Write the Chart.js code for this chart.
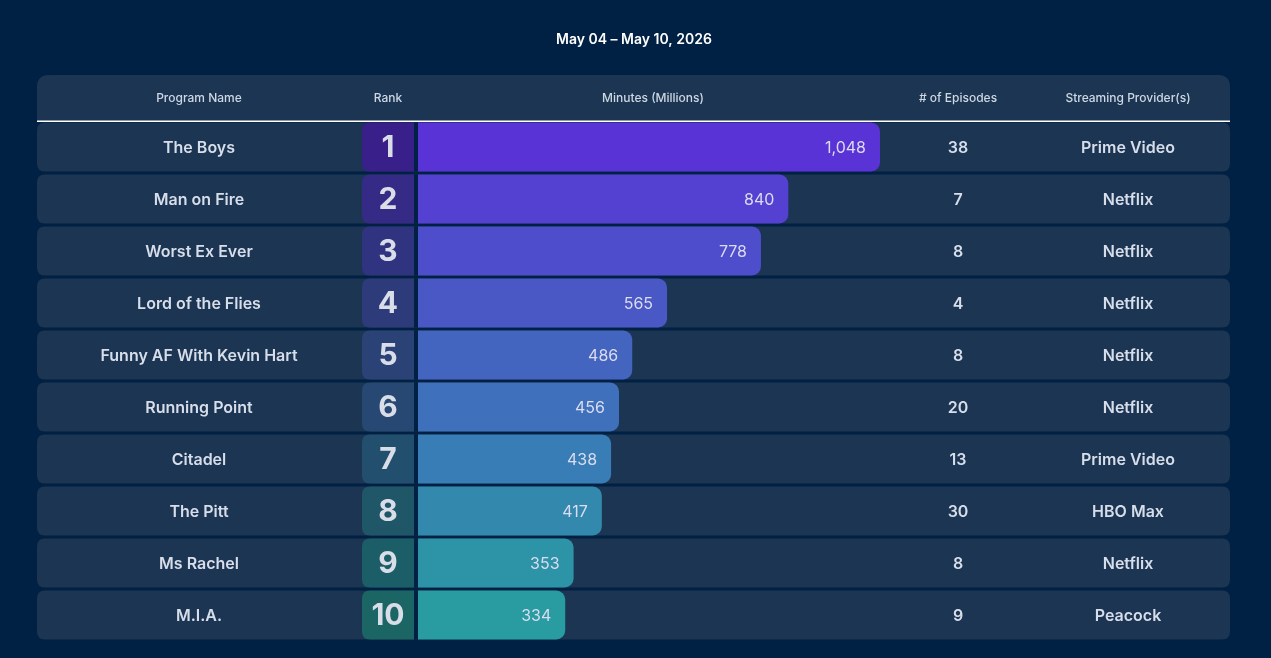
<!DOCTYPE html>
<html>
<head>
<meta charset="utf-8">
<script src="https://cdn.jsdelivr.net/npm/chart.js@4"></script>
<style>
  html, body { margin: 0; padding: 0; background: #002143; }
  #wrap { width: 1271px; height: 658px; position: relative; }
</style>
</head>
<body>
<div id="wrap"><canvas id="c"></canvas></div>
<script>
const title = "May 04 – May 10, 2026";
const headers = ["Program Name", "Rank", "Minutes (Millions)", "# of Episodes", "Streaming Provider(s)"];
const programs = ["The Boys", "Man on Fire", "Worst Ex Ever", "Lord of the Flies", "Funny AF With Kevin Hart", "Running Point", "Citadel", "The Pitt", "Ms Rachel", "M.I.A."];
const ranks = [1, 2, 3, 4, 5, 6, 7, 8, 9, 10];
const minutes = [1048, 840, 778, 565, 486, 456, 438, 417, 353, 334];
const episodes = [38, 7, 8, 4, 8, 20, 13, 30, 8, 9];
const providers = ["Prime Video", "Netflix", "Netflix", "Netflix", "Netflix", "Netflix", "Prime Video", "HBO Max", "Netflix", "Peacock"];

const barColors = ["#5a33d7", "#5441d2", "#4e4dcb", "#4958c5", "#4365bf", "#3e70bb", "#387db5", "#3388ae", "#2d93a7", "#289ca0"];
const rankColors = ["#381f8a", "#352a86", "#303380", "#2d3b7b", "#2a4276", "#264872", "#234f6e", "#1f5769", "#1c5e67", "#1b6565"];

const PAGE_BG = "#002143";
const ROW_BG = "#1b3553";
const TEXT = "#d7deea";
const L = 37, R = 1230;
const colX = { name: 199, rank: 388, minutes: 653, episodes: 958, provider: 1128 };

function rr(ctx, x, y, w, h, r) {
  // r: [tl, tr, br, bl]
  ctx.beginPath();
  ctx.moveTo(x + r[0], y);
  ctx.lineTo(x + w - r[1], y);
  ctx.quadraticCurveTo(x + w, y, x + w, y + r[1]);
  ctx.lineTo(x + w, y + h - r[2]);
  ctx.quadraticCurveTo(x + w, y + h, x + w - r[2], y + h);
  ctx.lineTo(x + r[3], y + h);
  ctx.quadraticCurveTo(x, y + h, x, y + h - r[3]);
  ctx.lineTo(x, y + r[0]);
  ctx.quadraticCurveTo(x, y, x + r[0], y);
  ctx.closePath();
}

const tablePlugin = {
  id: 'table',
  beforeDatasetsDraw(chart) {
    const ctx = chart.ctx;
    const ys = chart.scales.y;
    const area = chart.chartArea;
    ctx.save();
    // title
    ctx.fillStyle = "#ffffff";
    ctx.font = "600 14px Inter";
    ctx.textAlign = "center";
    ctx.textBaseline = "middle";
    ctx.fillText(title, 634, 40);
    // header
    ctx.fillStyle = ROW_BG;
    rr(ctx, L, 75, R - L, 47, [12, 12, 0, 0]);
    ctx.fill();
    ctx.fillStyle = "#cfd7e2";
    ctx.font = "500 12px Inter";
    const hx = [colX.name, colX.rank, colX.minutes, colX.episodes, colX.provider];
    headers.forEach((h, i) => ctx.fillText(h, hx[i], 98));
    ctx.fillStyle = "#ffffff";
    ctx.fillRect(L, 120.5, R - L, 1.5);
    // rows
    const half = 24.5;
    programs.forEach((p, i) => {
      const yc = ys.getPixelForValue(i);
      const top = yc - half;
      ctx.fillStyle = ROW_BG;
      rr(ctx, L, top, R - L, half * 2, [8, 8, 8, 8]);
      ctx.fill();
      ctx.fillStyle = rankColors[i];
      rr(ctx, 362, top, 52, half * 2, [8, 0, 0, 8]);
      ctx.fill();
      ctx.fillStyle = PAGE_BG;
      ctx.fillRect(414, top, area.left - 414, half * 2);
    });
    ctx.restore();
  },
  afterDatasetsDraw(chart) {
    const ctx = chart.ctx;
    const ys = chart.scales.y;
    const xs = chart.scales.x;
    ctx.save();
    ctx.textBaseline = "middle";
    programs.forEach((p, i) => {
      const yc = ys.getPixelForValue(i);
      ctx.fillStyle = TEXT;
      ctx.textAlign = "center";
      ctx.font = "600 16px Inter";
      ctx.fillText(p, colX.name, yc + 1);
      ctx.fillText(String(episodes[i]), colX.episodes, yc + 1);
      ctx.fillText(providers[i], colX.provider, yc + 1);
      ctx.font = "700 30px Inter";
      ctx.fillStyle = "#d9dde8";
      ctx.fillText(String(ranks[i]), colX.rank, yc + 1);
      ctx.font = "400 16px Inter";
      ctx.fillStyle = "#dcdcf0";
      ctx.textAlign = "right";
      ctx.fillText(minutes[i].toLocaleString("en-US"), xs.getPixelForValue(minutes[i]) - 14, yc + 1);
    });
    ctx.restore();
  }
};

function draw() {
  new Chart(document.getElementById('c'), {
    type: 'bar',
    data: {
      labels: programs,
      datasets: [{
        data: minutes,
        backgroundColor: barColors,
        borderRadius: 9,
        borderSkipped: 'start',
        barPercentage: 1,
        categoryPercentage: 49 / 52
      }]
    },
    options: {
      indexAxis: 'y',
      responsive: true,
      maintainAspectRatio: false,
      animation: false,
      layout: { padding: { left: 418, right: 391, top: 121, bottom: 17 } },
      plugins: { legend: { display: false }, tooltip: { enabled: false }, title: { display: false } },
      scales: {
        x: { display: false, min: 0, max: Math.max(...minutes) },
        y: { display: false }
      }
    },
    plugins: [tablePlugin]
  });
}
if (document.fonts && document.fonts.load) {
  Promise.all([
    document.fonts.load("400 16px Inter"),
    document.fonts.load("600 16px Inter"),
    document.fonts.load("700 30px Inter"),
    document.fonts.load("500 12px Inter")
  ]).then(draw, draw);
} else { draw(); }
</script>
</body>
</html>
